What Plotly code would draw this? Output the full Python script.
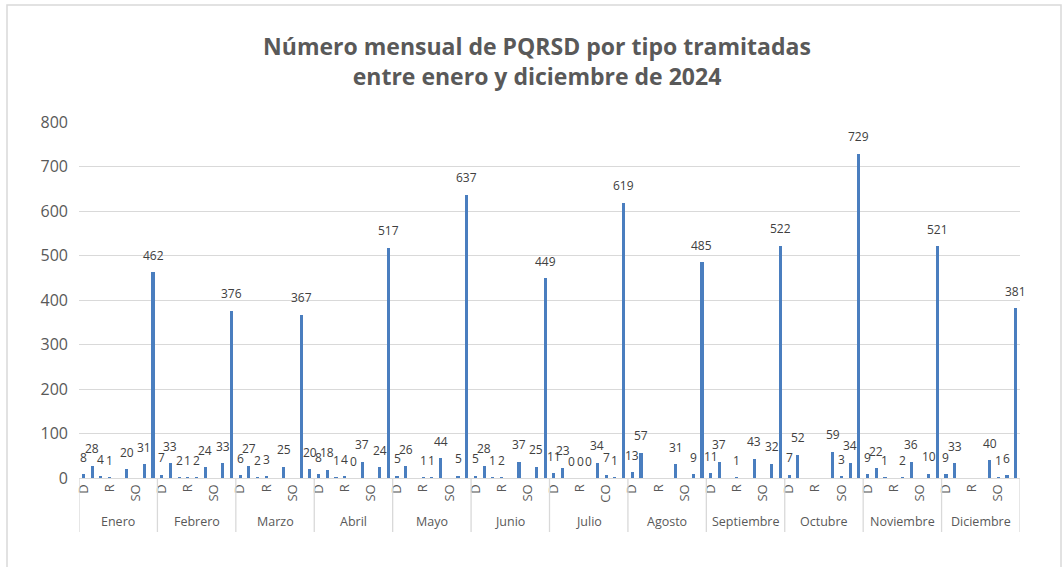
import plotly.graph_objects as go

meses = ["Enero", "Febrero", "Marzo", "Abril", "Mayo", "Junio", "Julio",
         "Agosto", "Septiembre", "Octubre", "Noviembre", "Diciembre"]

# 9 category slots per month; None = no data label / no bar
enero      = [8, 28, 4, 1, None, 20, None, 31, 462]
febrero    = [7, 33, 2, 1, 2, 24, None, 33, 376]
marzo      = [6, 27, 2, 3, None, 25, None, 367, 20]
abril      = [8, 18, 1, 4, 0, 37, None, 24, 517]
mayo       = [5, 26, None, 1, 1, 44, None, 5, 637]
junio      = [5, 28, 1, 2, None, 37, None, 25, 449]
julio      = [11, 23, 0, 0, 0, 34, 7, 1, 619]
agosto     = [13, 57, None, None, None, 31, None, 9, 485]
septiembre = [11, 37, None, 1, None, 43, None, 32, 522]
octubre    = [7, 52, None, None, None, 59, 3, 34, 729]
noviembre  = [9, 22, 1, None, 2, 36, None, 10, 521]
diciembre  = [9, 33, None, None, None, 40, 1, 6, 381]

# visible inner tick labels (slot index -> label) per month
etiquetas = {0: "D", 3: "R", 6: "SO"}
etiquetas_julio = {0: "D", 3: "R", 6: "CO"}

series = [enero, febrero, marzo, abril, mayo, junio, julio,
          agosto, septiembre, octubre, noviembre, diciembre]

n_slots = len(enero)
xs, ys = [], []
tickvals, ticktext = [], []
for m, vals in enumerate(series):
    labs = etiquetas_julio if meses[m] == "Julio" else etiquetas
    for i, v in enumerate(vals):
        pos = m * n_slots + i
        xs.append(pos)
        ys.append(v)
        if i in labs:
            tickvals.append(pos)
            ticktext.append(labs[i])

GRAY = "#595959"
LINE = "#d9d9d9"
FONT = "Open Sans"

W, H = 1062, 567
L, R, T, B = 79, 42, 122, 89
PW, PH = W - L - R, H - T - B

def py(p):
    return (H - B - p) / PH

def px(p):
    return (p - L) / PW

fig = go.Figure(go.Bar(
    x=xs, y=ys,
    marker=dict(color="#4a7ebf", line=dict(width=0)),
    width=0.36,
))

shapes = []
total = n_slots * len(meses)
for m in range(len(meses) + 1):
    xb = m * n_slots - 0.5
    shapes.append(dict(type="line", xref="x", yref="paper", x0=xb, x1=xb,
                       y0=0, y1=py(532), line=dict(color=LINE, width=1.3)))
# outer chart border
shapes.append(dict(type="rect", xref="paper", yref="paper",
                   x0=px(7), x1=px(1061), y0=py(600), y1=py(5),
                   line=dict(color=LINE, width=1.5)))

annotations = []
# data labels above each bar
for x, v in zip(xs, ys):
    if v is None:
        continue
    annotations.append(dict(x=x, y=v, xref="x", yref="y", text=str(v),
                            showarrow=False, xanchor="center", yanchor="middle",
                            yshift=17,
                            font=dict(family=FONT, size=12, color="#404040")))
for m, name in enumerate(meses):
    annotations.append(dict(x=m * n_slots + (n_slots - 1) / 2, xref="x",
                            y=py(521), yref="paper", text=name,
                            showarrow=False, xanchor="center", yanchor="middle",
                            font=dict(family=FONT, size=12.5, color=GRAY)))

fig.update_layout(
    width=W, height=H,
    margin=dict(l=L, r=R, t=T, b=B),
    paper_bgcolor="white", plot_bgcolor="white",
    showlegend=False,
    title=dict(text="Número mensual de PQRSD por tipo tramitadas<br>entre enero y diciembre de 2024",
               x=537 / W, xref="container", xanchor="center",
               y=1 - 55 / H, yref="container", yanchor="top",
               font=dict(family=FONT, size=23, color=GRAY, weight="bold")),
    xaxis=dict(range=[-0.5, total - 0.5], tickmode="array",
               tickvals=tickvals, ticktext=ticktext, tickangle=-90,
               tickfont=dict(family=FONT, size=13, color=GRAY),
               showgrid=False, zeroline=False, showline=True,
               linecolor=LINE, linewidth=1.3, ticks="", fixedrange=True),
    yaxis=dict(range=[0, 800], dtick=100, showgrid=True, gridcolor=LINE,
               gridwidth=1.3, zeroline=False, showline=False,
               tickfont=dict(family=FONT, size=16, color=GRAY),
               ticklabelstandoff=10, ticks="", fixedrange=True),
    shapes=shapes, annotations=annotations,
    bargap=0,
)

fig.write_html("out.html", config={"displayModeBar": False},
               post_script="document.body.style.margin='0px';document.body.style.overflow='hidden';")
